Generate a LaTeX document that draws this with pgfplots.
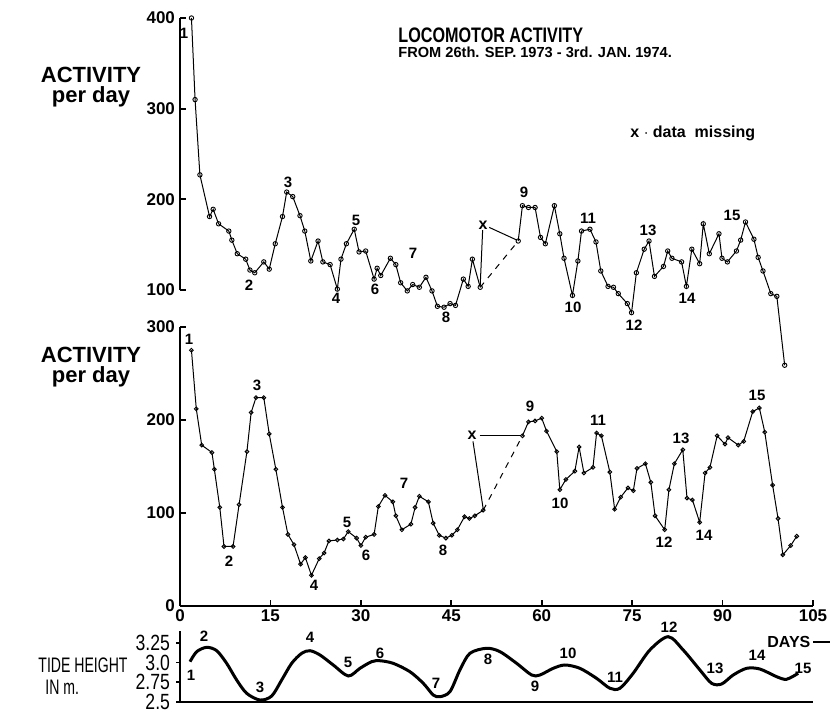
\documentclass[border=0pt]{standalone}
\usepackage{pgfplots}
\pgfplotsset{compat=1.18}
\usepackage{fontspec}
\setmainfont{Liberation Sans}
\newfontfamily\condfont[FakeStretch=0.67]{Liberation Sans}
\newfontfamily\tickfont[FakeStretch=0.8]{Liberation Sans}
\newfontfamily\titlefont[FakeStretch=0.77]{Liberation Sans}
\begin{document}
\begin{tikzpicture}
\path[use as bounding box] (0,0) rectangle (415pt,358.5pt);
\pgfplotsset{
  every axis/.append style={
    scale only axis, anchor=south west, clip=false, enlargelimits=false,
    xmin=0, xmax=105, width=316.5pt,
    /pgf/number format/assume math mode=true,
    tick label style={font=\bfseries\fontsize{8.5}{10}\selectfont},
    major tick length=3pt,
    tick style={line width=0.9pt, black},
  },
  dat/.style={black, line width=0.5pt, mark=o, mark size=1.1pt,
    mark options={solid, fill=white, line width=0.45pt}},
}
% ---------------- top panel ----------------
\begin{axis}[at={(90pt,213.5pt)}, height=136pt,
  ymin=100, ymax=400,
  axis x line=none, axis y line=left,
  axis line style={-, line width=1.4pt},
  ytick={100,200,300,400}, tick align=inside,
  yticklabel style={xshift=1pt},
]
\addplot[dat] coordinates {
(1.9,400) (2.5,310) (3.3,227) (4.9,181) (5.5,189) (6.4,173) (8.1,165) (8.6,155)
(9.5,140) (10.9,134) (11.6,122) (12.4,119) (13.9,131) (14.8,123) (15.8,151)
(17.0,181) (17.7,208) (18.7,203) (19.9,182) (20.7,165) (21.7,132) (22.9,154)
(23.7,131) (24.9,128) (26.1,101) (26.7,134) (27.6,151) (28.9,167) (29.7,142)
(30.8,143) (32.2,112) (32.7,124) (33.3,116) (34.9,135) (35.8,128) (36.6,108)
(37.7,99) (38.6,106) (39.7,103) (40.8,114) (41.8,99) (42.7,82) (43.8,81)
(44.8,85) (45.7,83) (47.0,112) (47.8,104) (48.5,134) (49.8,103)
};
\addplot[black, line width=0.5pt, dashed] coordinates {(49.8,103) (56.1,154)};
\addplot[dat] coordinates {
(56.1,154) (56.8,193) (57.8,191) (58.9,191) (59.8,158) (60.6,151) (62.1,193)
(63.0,162) (63.7,135) (65.1,94) (66.0,132) (66.6,165) (68.0,167) (69.0,153)
(69.8,121) (71.0,104) (71.9,103) (72.7,96) (74.2,85) (74.9,75) (75.7,119)
(77.0,145) (77.8,154) (78.7,115) (80.2,126) (80.9,143) (81.6,135) (83.2,131)
(84.0,104) (84.9,145) (86.2,129) (86.8,173) (87.8,140) (89.4,162) (89.9,135)
(90.8,131) (92.3,143) (93.0,155) (93.8,175) (95.2,156) (95.9,136) (96.7,121)
(98.0,96) (99.0,93) (100.3,17)
};
\draw[line width=0.5pt] (axis cs:50.2,166) -- (axis cs:49.8,105);
\draw[line width=0.5pt] (axis cs:51.3,169) -- (axis cs:55.9,155);
\end{axis}
% ---------------- middle panel ----------------
\begin{axis}[at={(90pt,55.5pt)}, height=139.5pt,
  ymin=0, ymax=300,
  axis x line=bottom, axis y line=left,
  axis line style={-, line width=1.4pt},
  xtick={0,15,...,105}, ytick={0,100,200,300}, tick align=inside,
  yticklabel style={xshift=1pt},
  xticklabel style={yshift=1.5pt},
]
\addplot[dat, mark size=0.95pt] coordinates {
(1.9,275) (2.7,212) (3.6,173) (5.3,165) (5.7,147) (6.6,106) (7.3,64) (8.8,64)
(9.8,109) (11.1,166) (11.8,208) (12.6,224) (13.9,224) (14.8,185) (15.9,147)
(17.0,106) (17.9,77) (18.9,66) (20.0,45) (20.8,52) (21.8,33) (23.1,51) (23.9,57)
(24.7,70) (26.1,71) (27.1,72) (27.9,80) (29.3,73) (30.0,65) (30.8,74) (32.2,77)
(32.9,107) (34.0,119) (35.3,112) (35.8,97) (36.8,82) (38.3,88) (39.0,106)
(39.7,118) (41.2,112) (42.0,89) (43.0,76) (44.1,73) (45.1,76) (46.0,82)
(47.2,96) (48.0,94) (48.9,97) (50.3,103)
};
\addplot[black, line width=0.5pt, dashed] coordinates {(50.3,103) (56.8,183)};
\addplot[dat, mark size=0.95pt] coordinates {
(56.8,183) (57.8,198) (58.9,199) (60.0,202) (60.8,188) (62.5,166) (63.0,125)
(64.0,136) (65.5,145) (66.2,171) (67.0,143) (68.5,149) (69.1,186) (69.9,183)
(71.3,144) (72.1,104) (73.1,117) (74.3,127) (75.2,124) (75.8,148) (77.2,153)
(78.1,133) (78.8,97) (80.4,82) (81.1,125) (82.0,153) (83.4,168) (84.1,116)
(85.0,114) (86.2,90) (87.1,143) (87.9,149) (89.1,183) (90.4,174) (90.9,181)
(92.6,173) (93.5,177) (95.0,209) (96.1,213) (97.0,187) (98.3,130) (99.2,94)
(100.0,55) (101.3,65) (102.3,75)
};
\draw[line width=0.5pt] (axis cs:48.6,177) -- (axis cs:50.3,104);
\draw[line width=0.5pt] (axis cs:49.7,183) -- (axis cs:56.6,183);
\end{axis}
% ---------------- tide panel ----------------
\begin{axis}[at={(90pt,7.5pt)}, height=35.5pt,
  ymin=2.5, ymax=3.4,
  axis x line=bottom, axis y line=left,
  axis line style={-, line width=1.4pt},
  xtick=\empty, ytick={2.5,2.75,3.0,3.25},
  yticklabels={2.5,2.75,3.0,3.25},
  tick align=outside, major tick length=2pt,
  yticklabel style={font=\tickfont\fontsize{11}{11}\selectfont, xshift=0.5pt},
]
\addplot[black, line width=1.5pt, smooth] coordinates {
(1.66,3.011) (2.77,3.138) (4.43,3.193) (6.09,3.150) (7.74,2.990) (9.40,2.779)
(11.06,2.610) (13.27,2.525) (15.21,2.576) (16.87,2.779) (18.52,2.990)
(20.18,3.117) (21.56,3.150) (23.22,3.096) (25.42,2.969) (27.91,2.830)
(29.85,2.927) (31.79,3.011) (33.17,3.023) (35.37,2.990) (38.14,2.884)
(40.35,2.737) (42.01,2.589) (43.12,2.567) (44.78,2.631) (46.43,2.906)
(48.09,3.117) (50.86,3.181) (53.07,3.138) (55.84,2.990) (58.33,2.842)
(59.70,2.842) (61.91,2.927) (63.85,2.969) (66.33,2.927) (69.10,2.800)
(71.31,2.674) (72.97,2.674) (75.17,2.864) (77.94,3.159) (80.98,3.328)
(83.47,3.159) (86.24,2.906) (88.18,2.737) (89.84,2.728) (91.76,2.842)
(93.98,2.927) (96.19,2.918) (98.96,2.821) (100.61,2.788) (102.54,2.864)
};
\end{axis}
% ---------------- text (pixel coordinates) ----------------
\begin{scope}[x=0.5pt, y=-0.5pt, yshift=358.5pt,
  every node/.style={font=\bfseries\fontsize{7.5}{9}\selectfont, inner sep=0pt}]
\node[font=\bfseries\fontsize{11}{10}\selectfont, align=center] at (91,87) {ACTIVITY\\per day};
\node[font=\bfseries\fontsize{11}{10}\selectfont, align=center] at (91,367) {ACTIVITY\\per day};
\node[font=\titlefont\bfseries\fontsize{10.5}{11}\selectfont, anchor=west] at (398,35) {LOCOMOTOR ACTIVITY};
\node[font=\bfseries\fontsize{7.3}{8}\selectfont, anchor=west] at (398,52) {FROM 26th. SEP. 1973 - 3rd. JAN. 1974.};
\node[font=\bfseries\fontsize{8}{9}\selectfont, anchor=west] at (630,133) {x $\cdot$ data\ \ missing};
% top labels
\node at (184,33) {1};
\node at (249,285) {2};
\node at (288,182) {3};
\node at (336,298) {4};
\node at (356,220) {5};
\node at (375,289) {6};
\node at (413,253) {7};
\node at (446,317) {8};
\node at (524,192) {9};
\node at (573,307) {10};
\node at (588,218) {11};
\node at (634,325) {12};
\node at (648,230) {13};
\node at (687,298) {14};
\node at (732,215) {15};
\node[font=\bfseries\fontsize{8}{9}\selectfont] at (483,225) {x};
% middle labels
\node at (189,339) {1};
\node at (229,561) {2};
\node at (257,385) {3};
\node at (314,585) {4};
\node at (347,522) {5};
\node at (366,555) {6};
\node at (404,483) {7};
\node at (443,550) {8};
\node at (530,406) {9};
\node at (560,503) {10};
\node at (598,420) {11};
\node at (664,542) {12};
\node at (681,438) {13};
\node at (704,535) {14};
\node at (757,395) {15};
\node[font=\bfseries\fontsize{8}{9}\selectfont] at (472,435) {x};
% tide labels
\node[font=\condfont\fontsize{10.5}{11}\selectfont] at (83,665) {TIDE HEIGHT};
\node[font=\condfont\fontsize{10.5}{11}\selectfont, anchor=west] at (45,687) {IN m.};
\node at (191,675) {1};
\node at (204,636) {2};
\node at (260,687) {3};
\node at (310,637) {4};
\node at (348,662) {5};
\node at (380,653) {6};
\node at (436,683) {7};
\node at (488,659) {8};
\node at (535,686) {9};
\node at (568,653) {10};
\node at (615,677) {11};
\node at (669,627) {12};
\node at (715,668) {13};
\node at (757,655) {14};
\node at (803,668) {15};
\node[font=\bfseries\fontsize{8}{9}\selectfont, anchor=west] at (767,642) {DAYS};
\draw[line width=0.8pt] (813,642) -- (830,642);
\end{scope}
\end{tikzpicture}
\end{document}
